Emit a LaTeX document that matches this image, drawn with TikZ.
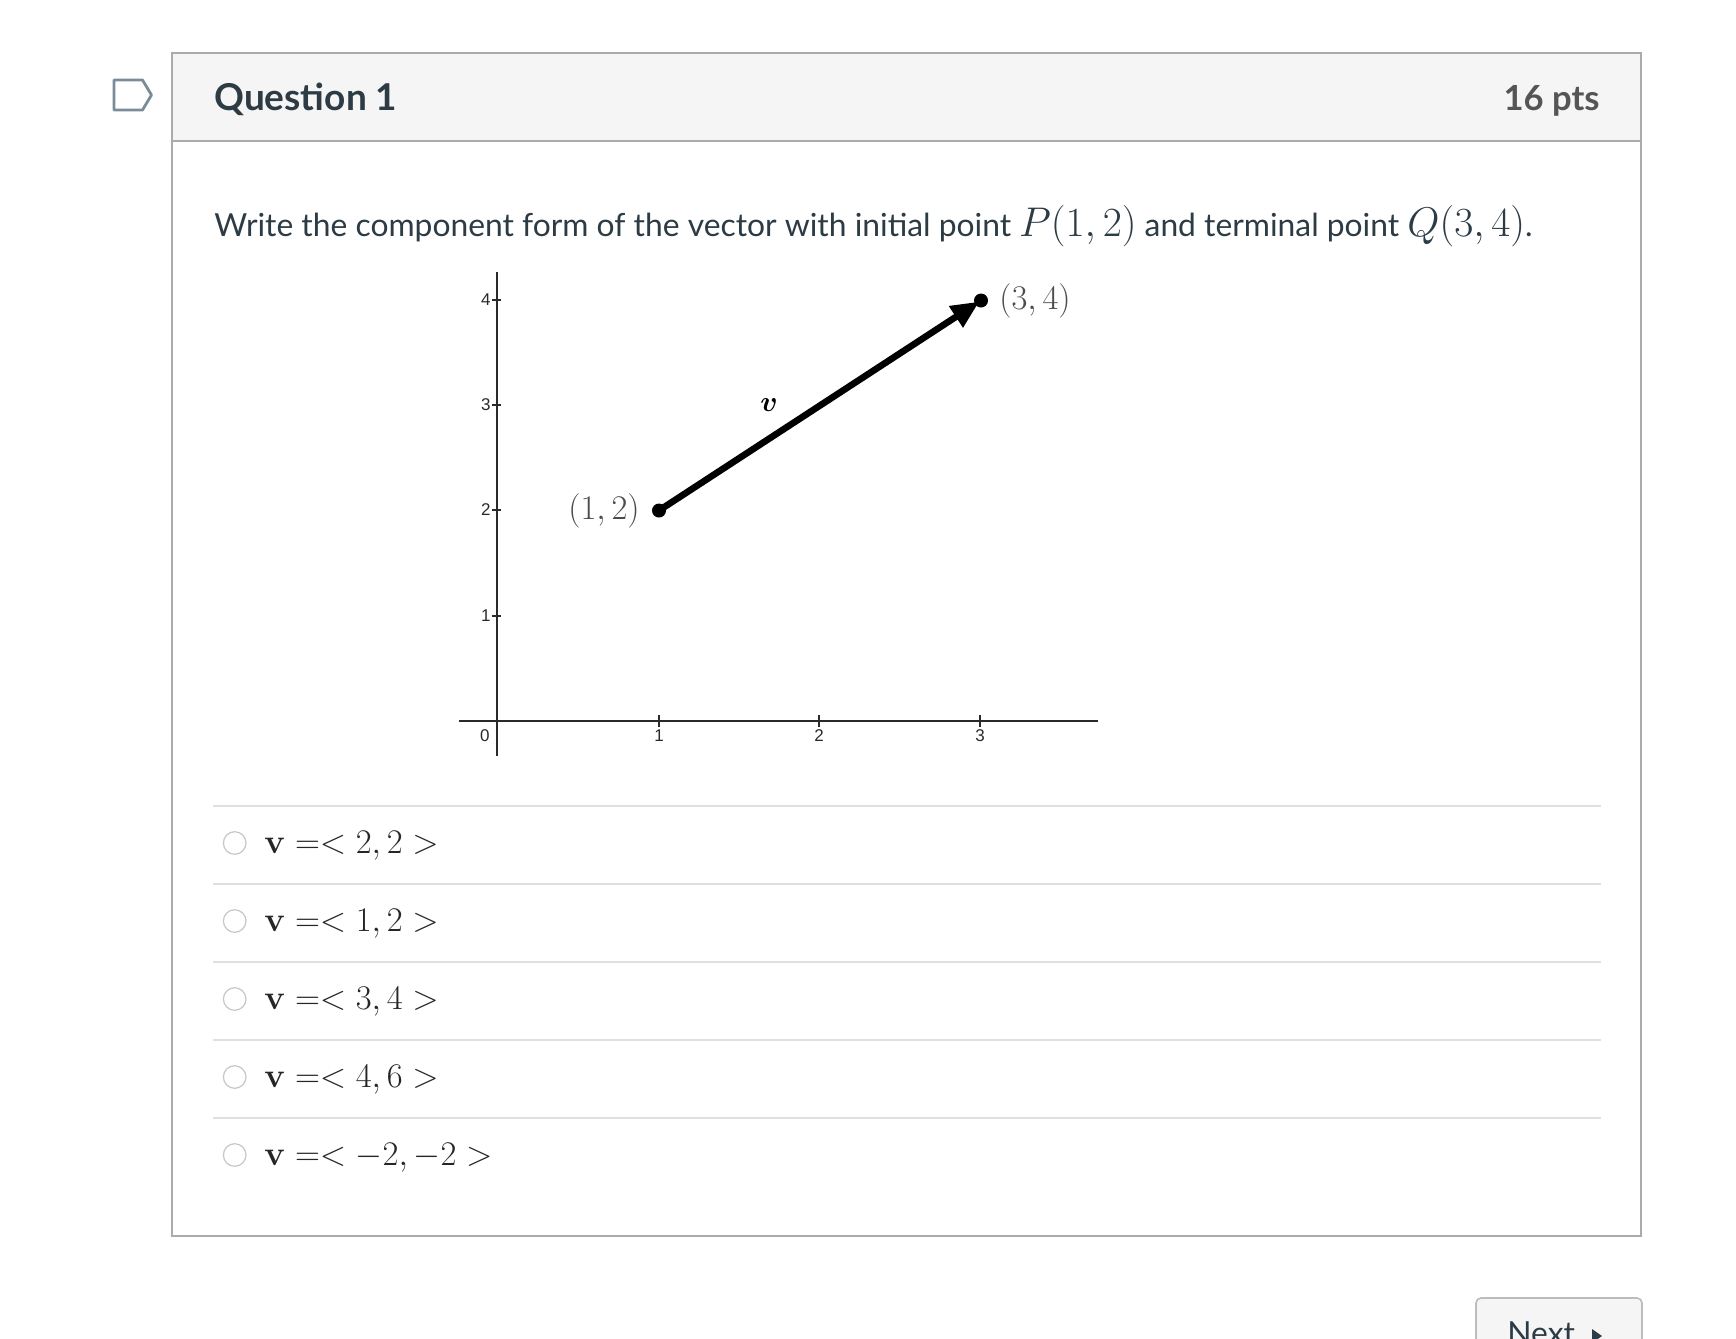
\documentclass[tikz,border=0pt]{standalone}
\usepackage{amsmath}
\usepackage[no-math]{fontspec}
\setmainfont{Lato}
\newfontfamily\tickfont{Liberation Sans}
\usetikzlibrary{arrows.meta,positioning}
\definecolor{boxgray}{HTML}{ABABAB}
\definecolor{headfill}{HTML}{F5F5F5}
\definecolor{headtext}{HTML}{2D3B45}
\definecolor{ptsgray}{HTML}{555555}
\definecolor{rulegray}{HTML}{E0E0E0}
\definecolor{flagblue}{HTML}{7B8C99}
\definecolor{axisgray}{HTML}{2A2A2A}
\tikzset{
  axisline/.style={axisgray,line width=0.8pt},
  ticklabel/.style={font=\tickfont\fontsize{8.5}{10}\selectfont,text=axisgray,inner sep=0pt},
  ptlabel/.style={font=\fontsize{16.2}{18}\selectfont,text=black!70,inner sep=0pt},
  optrule/.style={rulegray,line width=1pt},
  radio/.style={circle,draw=black!22,fill=white,line width=0.6pt,minimum size=11.3pt,inner sep=0pt},
  optlabel/.style={anchor=base west,font=\fontsize{17.1}{20}\selectfont,text=black!85,inner sep=0pt}
}
\begin{document}
\begin{tikzpicture}[x=0.5pt,y=-0.5pt]
\useasboundingbox[fill=white] (0,0) rectangle (1736,1339);
% question card
\fill[headfill] (171.5,52.5) rectangle (1641,140.5);
\draw[boxgray,line width=1pt] (171.5,52.5) rectangle (1641,1236);
\draw[boxgray,line width=1pt] (171.5,140.5) -- (1641,140.5);
\draw[flagblue,line width=1.4pt,line join=round,fill=white] (114,80) -- (142.5,80) -- (151.5,95) -- (142.5,110) -- (114,110) -- cycle;
\node[anchor=base west,inner sep=0pt,font=\bfseries\fontsize{18.5}{22}\selectfont,text=headtext] (title) at (214,110.7) {Question 1};
\node[anchor=base east,inner sep=0pt,font=\bfseries\fontsize{17.3}{22}\selectfont,text=ptsgray] (pts) at (1600,110.7) {16 pts};
\node[anchor=base west,inner sep=0pt,font=\fontsize{15.9}{18}\selectfont,text=headtext] (prompt) at (214,236.7)
  {Write the component form of the vector with initial point {\fontsize{21}{24}\selectfont$P(1,2)$} and terminal point {\fontsize{21}{24}\selectfont$Q(3,4)$}.};
% axes
\coordinate (xleft) at (459,721);
\coordinate (xright) at (1098,721);
\coordinate (ytop) at (497,272);
\coordinate (ybot) at (497,756);
\draw[axisline] (xleft) -- (xright);
\draw[axisline] (ytop) -- (ybot);
\foreach \i/\xx in {1/659,2/819,3/980} {
  \draw[axisline] (\xx,715) -- (\xx,727);
  \node[ticklabel,anchor=north] (xt\i) at (\xx,729) {\i};
}
\node[ticklabel,anchor=north east] (xt0) at (490,729) {0};
\foreach \j/\yy in {1/616,2/510,3/405,4/300} {
  \draw[axisline] (492,\yy) -- (501,\yy);
  \node[ticklabel,anchor=east] (yt\j) at (491,\yy) {\j};
}
% vector
\coordinate (P) at (659,510.5);
\coordinate (Q) at (981,300.5);
\draw[line width=3.3pt,-{Triangle[length=14pt,width=12pt]},shorten >=1pt] (P) -- (Q);
\fill (P) circle [radius=3.5pt];
\fill (Q) circle [radius=3.5pt];
\node[ptlabel] (Plabel) at (604,510.5) {$(1,2)$};
\node[ptlabel] (Qlabel) at (1035,300.5) {$(3,4)$};
\node[font=\fontsize{15}{17}\selectfont,inner sep=0pt] (vlabel) at (769,405) {$\boldsymbol{v}$};
% answers
\foreach \k/\ans in {0/{2,2},1/{1,2},2/{3,4},3/{4,6},4/{-2,-2}} {
  \draw[optrule] (213,{805.5+78*\k}) -- (1601,{805.5+78*\k});
  \node[radio] (r\k) at (234.7,{843+78*\k}) {};
  \node[optlabel] (a\k) at (264,{853+78*\k}) {$\mathbf{v} =< \ans >$};
}
% next button
\draw[boxgray!80,fill=headfill,rounded corners=2.5pt,line width=0.8pt] (1476,1298) rectangle (1642,1370);
\node[anchor=base west,inner sep=0pt,font=\fontsize{15.9}{18}\selectfont,text=headtext] (next) at (1507,1344) {Next};
\fill[headtext] (1592,1329) -- (1602,1336) -- (1592,1343) -- cycle;
\end{tikzpicture}
\end{document}
